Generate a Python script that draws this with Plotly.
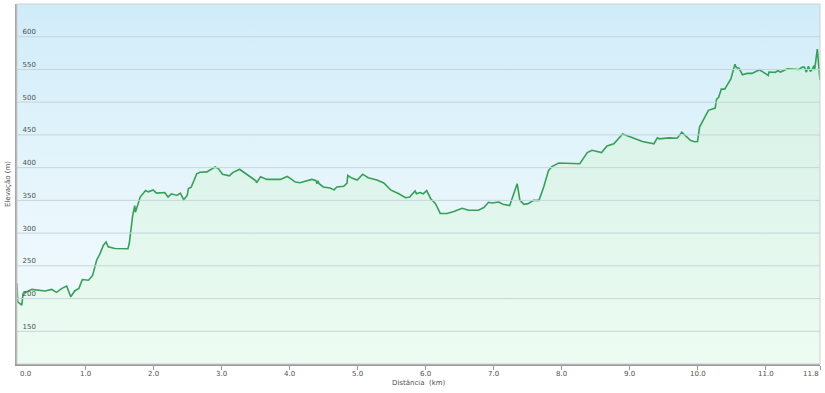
import plotly.graph_objects as go

distance_km = [0.00, 0.01, 0.07, 0.09, 0.22, 0.41, 0.51, 0.58, 0.66, 0.73,
               0.79, 0.85, 0.91, 0.96, 1.05, 1.11, 1.17, 1.22, 1.27, 1.31,
               1.34, 1.44, 1.63, 1.65, 1.70, 1.73, 1.74, 1.78, 1.81, 1.89,
               1.93, 2.00, 2.05, 2.17, 2.22, 2.27, 2.35, 2.40, 2.45, 2.50,
               2.52, 2.56, 2.59, 2.64, 2.69, 2.79, 2.91, 2.96, 3.02, 3.12,
               3.17, 3.27, 3.51, 3.52, 3.58, 3.67, 3.87, 3.97, 4.01, 4.09,
               4.16, 4.33, 4.39, 4.41, 4.42, 4.44, 4.50, 4.60, 4.66, 4.70,
               4.80, 4.85, 4.86, 4.92, 5.00, 5.08, 5.16, 5.29, 5.39, 5.49,
               5.61, 5.71, 5.77, 5.85, 5.87, 5.92, 5.97, 6.02, 6.08, 6.15,
               6.22, 6.32, 6.42, 6.54, 6.64, 6.78, 6.86, 6.93, 6.98, 7.08,
               7.14, 7.24, 7.35, 7.39, 7.45, 7.51, 7.59, 7.67, 7.74, 7.81,
               7.86, 7.96, 8.27, 8.38, 8.45, 8.59, 8.67, 8.77, 8.90, 9.11,
               9.19, 9.36, 9.41, 9.44, 9.58, 9.70, 9.77, 9.81, 9.90, 9.96,
               10.00, 10.03, 10.16, 10.26, 10.28, 10.31, 10.35, 10.40, 10.49, 10.55,
               10.57, 10.61, 10.66, 10.73, 10.80, 10.91, 11.04, 11.05, 11.14, 11.18,
               11.22, 11.32, 11.49, 11.54, 11.57, 11.60, 11.63, 11.66, 11.69, 11.71,
               11.72, 11.76, 11.78, 11.80]

elevation_m = [223, 195, 190, 208, 214, 211.5, 214, 209.5, 215.5, 219,
               202.7, 212, 215.5, 229, 228, 235, 258.5, 268.6, 281.5, 286.5,
               279, 276.5, 276, 284.5, 327, 342, 332, 347.5, 355, 365,
               363, 366, 361, 362, 355, 360, 357.5, 361, 351, 357.5,
               368, 370, 378, 390.5, 393, 393.5, 401, 398.5, 390, 387.5,
               392.5, 397.5, 380, 377, 386, 382, 382, 386.5, 384, 378,
               377, 382, 380.5, 375.5, 380, 375.5, 370.5, 369, 366, 370.5,
               371.5, 376.5, 388, 384, 381, 390, 384.5, 381, 376.5, 366,
               360, 354, 355, 364.5, 360, 362, 360, 365, 352.5, 345,
               330, 330, 333, 338, 335, 335, 339, 347, 346, 347.5,
               344, 342, 375.5, 350, 344, 345, 350, 350, 370.5, 395.5,
               401.5, 407, 406, 423, 426.5, 423, 433, 436.5, 451.5, 444,
               440, 436.5, 445.5, 444, 445.5, 445, 454, 450, 441.5, 439.5,
               440, 462, 487.5, 491, 504.5, 507, 520, 520, 535.5, 558,
               553, 552, 542, 544, 544, 549.5, 541, 546, 545.5, 548,
               546, 551, 550, 553.5, 553.5, 546, 555, 547, 551, 556,
               549, 581, 558, 534]

x_tick_vals = [0, 1, 2, 3, 4, 5, 6, 7, 8, 9, 10, 11, 11.8]
x_tick_text = ["0.0", "1.0", "2.0", "3.0", "4.0", "5.0", "6.0",
               "7.0", "8.0", "9.0", "10.0", "11.0", "11.8"]
y_tick_vals = [150, 200, 250, 300, 350, 400, 450, 500, 550, 600]

X_RANGE = [0, 11.8]
Y_RANGE = [100, 650]

FONT = "DejaVu Sans"
TXT = "#505050"

fig = go.Figure()

# background gradient panel
fig.add_trace(go.Scatter(
    x=[X_RANGE[0], X_RANGE[1], X_RANGE[1], X_RANGE[0], X_RANGE[0]],
    y=[Y_RANGE[0], Y_RANGE[0], Y_RANGE[1], Y_RANGE[1], Y_RANGE[0]],
    mode="none", fill="toself",
    fillgradient=dict(type="vertical", start=Y_RANGE[0], stop=Y_RANGE[1],
                      colorscale=[[0, "#f6fcfe"], [0.45, "#e8f6fb"], [1, "#d0ecf9"]]),
    hoverinfo="skip", showlegend=False,
))

# elevation profile
fig.add_trace(go.Scatter(
    x=distance_km, y=elevation_m, mode="lines",
    line=dict(color="#36a05a", width=1.6),
    fill="tozeroy",
    fillgradient=dict(type="vertical", start=Y_RANGE[0], stop=Y_RANGE[1],
                      colorscale=[[0, "#edfcf2"], [1, "#d0eee4"]]),
    showlegend=False,
))

shapes = []
for v in y_tick_vals:
    shapes.append(dict(type="line", xref="paper", yref="y", x0=0, x1=1, y0=v, y1=v,
                       line=dict(color="#c5d5dc", width=1), layer="above"))
# light frame on top and right
shapes.append(dict(type="rect", xref="paper", yref="paper", x0=0, x1=1, y0=0, y1=1,
                   line=dict(color="#cfcfcf", width=1), layer="above"))

annotations = []
n = len(x_tick_vals)
for i, (v, t) in enumerate(zip(x_tick_vals, x_tick_text)):
    anchor = "center"
    shift = 0
    if i == 0:
        anchor, shift = "left", 1
    elif i == n - 1:
        anchor, shift = "right", 1
    annotations.append(dict(x=v, y=0, xref="x", yref="paper", text=t, showarrow=False,
                            xanchor=anchor, yanchor="middle", xshift=shift, yshift=-10,
                            font=dict(family=FONT, size=7, color=TXT)))
annotations.append(dict(x=0.5, y=0, xref="paper", yref="paper", text="Distância  (km)",
                        showarrow=False, xanchor="center", yanchor="middle", yshift=-19,
                        font=dict(family=FONT, size=7, color=TXT)))
annotations.append(dict(x=0, y=0.5, xref="paper", yref="paper", text="Elevação (m)",
                        showarrow=False, xanchor="center", yanchor="middle", xshift=-9,
                        textangle=-90, font=dict(family=FONT, size=7, color=TXT)))

fig.update_layout(
    width=825, height=393,
    margin=dict(l=17, r=5, t=4, b=29),
    paper_bgcolor="white", plot_bgcolor="white",
    shapes=shapes, annotations=annotations,
    font=dict(family=FONT, size=7, color=TXT),
    xaxis=dict(range=X_RANGE, tickvals=x_tick_vals, showticklabels=False,
               showgrid=False, zeroline=False,
               showline=True, linecolor="#9a9a9a", linewidth=2,
               ticks="outside", ticklen=4, tickcolor="#9a9a9a", tickwidth=1,
               automargin=False, fixedrange=True),
    yaxis=dict(range=Y_RANGE, tickvals=y_tick_vals,
               showgrid=False, zeroline=False,
               showline=True, linecolor="#a8a8a8", linewidth=2,
               ticks="", ticklabelposition="inside top", ticklabelstandoff=3,
               tickfont=dict(size=7, color=TXT),
               automargin=False, fixedrange=True),
)

fig.write_html("out.html")
